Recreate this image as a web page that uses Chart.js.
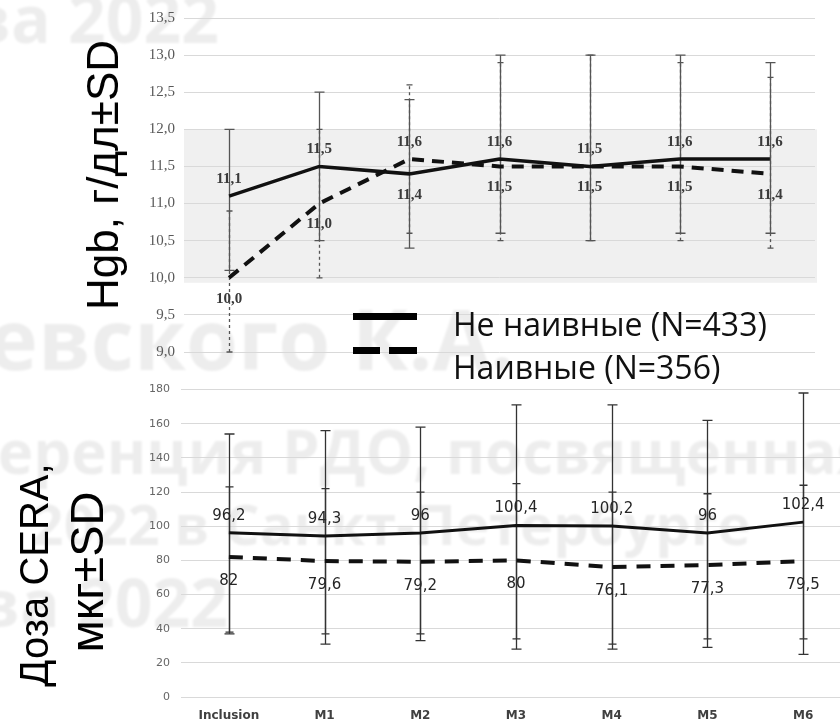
<!DOCTYPE html>
<html>
<head>
<meta charset="utf-8">
<script src="https://cdn.jsdelivr.net/npm/chart.js@4.4.1/dist/chart.umd.min.js"></script>
<style>
  html, body { margin: 0; padding: 0; background: #fff; overflow: hidden; }
  #wrap { position: relative; width: 840px; height: 724px; overflow: hidden; }
  #wm { position: absolute; left: 0; top: 0; }
  #hgb { position: absolute; left: 0; top: 0; }
  #cera { position: absolute; left: 0; top: 372px; }
  .axisTitle {
    position: absolute; white-space: nowrap; line-height: 1; color: #000;
    font-family: "Liberation Sans", Arial, sans-serif; font-size: 44px;
    transform: translate(-50%, -50%) rotate(-90deg);
  }
  .legText {
    position: absolute; left: 453px; white-space: nowrap; line-height: 1; color: #111;
    font-family: "Open Sans", sans-serif; font-size: 32px;
  }
  .legLine { position: absolute; height: 7px; background: #000; }
</style>
</head>
<body>
<div id="wrap">
  <canvas id="wm" width="840" height="724"></canvas>
  <canvas id="hgb" width="840" height="372"></canvas>
  <canvas id="cera" width="880" height="352"></canvas>

  <div class="axisTitle" style="left:103px; top:175px;">Hgb, г/дл±SD</div>
  <div class="axisTitle" style="left:34px; top:575px; font-size:40px;">Доза CERA,</div>
  <div class="axisTitle" style="left:86px; top:572px; font-size:47px;">мкг±SD</div>

  <div class="legLine" style="left:353px; top:313px; width:64px;"></div>
  <div class="legLine" style="left:353px; top:347px; width:27px;"></div>
  <div class="legLine" style="left:389px; top:347px; width:28px;"></div>
  <div class="legText" style="top:308px;">Не наивные (N=433)</div>
  <div class="legText" style="top:351px;">Наивные (N=356)</div>
</div>

<script>
// categories
const months = ['Inclusion', 'M1', 'M2', 'M3', 'M4', 'M5', 'M6'];

// Hgb, g/dl
const hgbNotNaive = [11.1, 11.5, 11.4, 11.6, 11.5, 11.6, 11.6];
const hgbNaive = [10.0, 11.0, 11.6, 11.5, 11.5, 11.5, 11.4];
const hgbNotNaiveLow = [10.1, 10.5, 10.4, 10.6, 10.5, 10.6, 10.6];
const hgbNotNaiveHigh = [12.0, 12.5, 12.4, 13.0, 13.0, 13.0, 12.9];
const hgbNaiveLow = [9.0, 10.0, 10.6, 10.5, 10.5, 10.5, 10.4];
const hgbNaiveHigh = [10.9, 12.0, 12.6, 12.9, 13.0, 12.9, 12.7];
const hgbTarget = [10, 12];

// CERA dose, mcg
const ceraNotNaive = [96.2, 94.3, 96, 100.4, 100.2, 96, 102.4];
const ceraNaive = [82, 79.6, 79.2, 80, 76.1, 77.3, 79.5];
const ceraNotNaiveLow = [37, 31, 33, 28, 28, 29, 25];
const ceraNotNaiveHigh = [154, 156, 158, 171, 171, 162, 178];
const ceraNaiveLow = [38, 37, 37, 34, 31, 34, 34];
const ceraNaiveHigh = [123, 122, 120, 125, 120, 119, 124];

const fmt = v => String(Math.round(v * 10) / 10).replace('.', ',');
const fmt1 = v => v.toFixed(1).replace('.', ',');

// watermark in the background
(function () {
  const c = document.getElementById('wm').getContext('2d');
  c.fillStyle = 'rgba(0,0,0,0.07)';
  c.filter = 'blur(1.2px)';
  c.textBaseline = 'alphabetic';
  const put = (size, before, after, x, y) => {
    c.font = 'bold ' + size + 'px "Open Sans"';
    const w = c.measureText(before).width;
    c.fillText(before + after, x - w, y);
  };
  put(66, 'Москва ', '2022', 68, 43);
  put(84, 'Ширшевского ', 'К.А.', 352, 370);
  put(60, 'Конференция ', 'РДО, посвященная', 282, 474);
  put(56, '2022 в ', 'Санкт-Петербурге', 224, 545);
  put(66, 'Москва ', '2022', 77, 627);
})();

const targetBand = {
  id: 'targetBand',
  beforeDraw(chart, args, opts) {
    if (!opts.range) return;
    const {ctx, chartArea, scales} = chart;
    const top = scales.y.getPixelForValue(opts.range[1]);
    const bottom = scales.y.getPixelForValue(opts.range[0]) + 5;
    ctx.save();
    ctx.fillStyle = '#f0f0f0';
    ctx.fillRect(chartArea.left, top, chartArea.right - chartArea.left + 2, bottom - top);
    ctx.restore();
  }
};

const errorBars = {
  id: 'errorBars',
  beforeDatasetsDraw(chart, args, opts) {
    const {ctx, scales} = chart;
    ctx.save();
    ctx.strokeStyle = opts.color;
    ctx.lineWidth = 1.3;
    chart.data.datasets.slice().reverse().forEach(ds => {
      ds.data.forEach((v, i) => {
        const x = Math.round(scales.x.getPixelForValue(i)) + 0.5;
        const y1 = scales.y.getPixelForValue(ds.errLow[i]);
        const y2 = scales.y.getPixelForValue(ds.errHigh[i]);
        ctx.setLineDash(ds.errDash || []);
        ctx.beginPath();
        ctx.moveTo(x, y1);
        ctx.lineTo(x, y2);
        ctx.stroke();
        ctx.setLineDash([]);
        ctx.beginPath();
        ctx.moveTo(x - ds.capHalf, y1); ctx.lineTo(x + ds.capHalf, y1);
        ctx.moveTo(x - ds.capHalf, y2); ctx.lineTo(x + ds.capHalf, y2);
        ctx.stroke();
      });
    });
    ctx.restore();
  }
};

const valueLabels = {
  id: 'valueLabels',
  afterDatasetsDraw(chart, args, opts) {
    const {ctx, scales} = chart;
    const sets = chart.data.datasets;
    ctx.save();
    ctx.font = opts.font;
    ctx.fillStyle = opts.color;
    ctx.textAlign = 'center';
    ctx.textBaseline = 'middle';
    sets.forEach((ds, d) => {
      const other = sets[1 - d];
      ds.data.forEach((v, i) => {
        const above = v > other.data[i] || (v === other.data[i] && d === 0);
        const x = scales.x.getPixelForValue(i);
        const y = scales.y.getPixelForValue(v) + (above ? opts.up : opts.down);
        ctx.fillText(opts.format(v), x, y);
      });
    });
    ctx.restore();
  }
};

new Chart(document.getElementById('hgb'), {
  type: 'line',
  data: {
    labels: months,
    datasets: [
      {
        label: 'Не наивные (N=433)', data: hgbNotNaive,
        errLow: hgbNotNaiveLow, errHigh: hgbNotNaiveHigh, capHalf: 5,
        borderColor: '#111', borderWidth: 3.5, pointRadius: 0, tension: 0
      },
      {
        label: 'Наивные (N=356)', data: hgbNaive,
        errLow: hgbNaiveLow, errHigh: hgbNaiveHigh, capHalf: 3, errDash: [3, 3],
        borderColor: '#111', borderWidth: 4, borderDash: [12, 8], pointRadius: 0, tension: 0
      }
    ]
  },
  options: {
    responsive: false,
    animation: false,
    devicePixelRatio: 1,
    layout: {padding: {top: 16, right: 25, bottom: 20, left: 0}},
    plugins: {
      legend: {display: false},
      tooltip: {enabled: false},
      targetBand: {range: hgbTarget},
      errorBars: {color: '#555'},
      valueLabels: {font: 'bold 15px "Liberation Serif"', color: '#3a3a3a', up: -17, down: 21, format: fmt1}
    },
    scales: {
      x: {display: false, offset: true},
      y: {
        min: 9, max: 13.5,
        afterFit(s) { s.width = 184; },
        ticks: {
          stepSize: 0.5, padding: 9, color: '#595959',
          font: {family: '"Liberation Serif"', size: 15},
          callback: v => fmt1(v)
        },
        grid: {color: '#d9d9d9', drawTicks: false},
        border: {display: false}
      }
    }
  },
  plugins: [targetBand, errorBars, valueLabels]
});

new Chart(document.getElementById('cera'), {
  type: 'line',
  data: {
    labels: months,
    datasets: [
      {
        label: 'Не наивные (N=433)', data: ceraNotNaive,
        errLow: ceraNotNaiveLow, errHigh: ceraNotNaiveHigh, capHalf: 5,
        borderColor: '#111', borderWidth: 3, pointRadius: 0, tension: 0
      },
      {
        label: 'Наивные (N=356)', data: ceraNaive,
        errLow: ceraNaiveLow, errHigh: ceraNaiveHigh, capHalf: 4,
        borderColor: '#111', borderWidth: 4, borderDash: [14, 10], pointRadius: 0, tension: 0
      }
    ]
  },
  options: {
    responsive: false,
    animation: false,
    devicePixelRatio: 1,
    layout: {padding: {top: 10, right: 29, bottom: 0, left: 0}},
    plugins: {
      legend: {display: false},
      tooltip: {enabled: false},
      errorBars: {color: '#333'},
      valueLabels: {font: '15px "DejaVu Sans"', color: '#262626', up: -17, down: 24, format: fmt}
    },
    scales: {
      x: {
        offset: true,
        afterFit(s) { s.height = 27; },
        grid: {display: false, drawTicks: false},
        border: {display: false},
        ticks: {padding: 12, color: '#404040', font: {family: '"DejaVu Sans"', size: 12, weight: 'bold'}}
      },
      y: {
        min: 0, max: 180,
        afterFit(s) { s.width = 181; },
        ticks: {stepSize: 20, padding: 11, color: '#666', font: {family: '"DejaVu Sans"', size: 11}},
        grid: {color: '#d9d9d9', drawTicks: false},
        border: {display: false}
      }
    }
  },
  plugins: [errorBars, valueLabels]
});
</script>
</body>
</html>
